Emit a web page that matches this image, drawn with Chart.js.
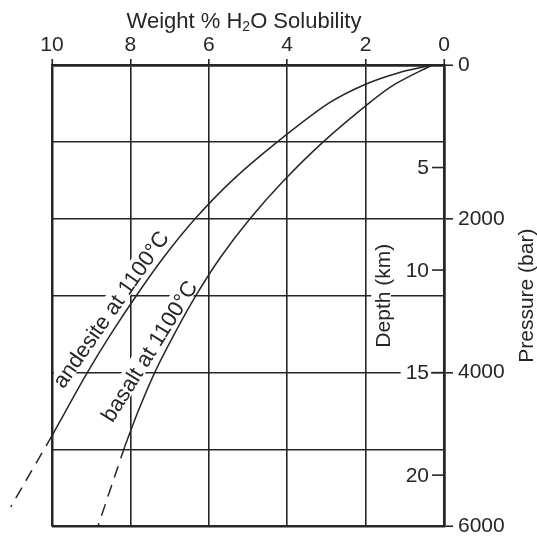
<!DOCTYPE html>
<html>
<head>
<meta charset="utf-8">
<script src="https://cdn.jsdelivr.net/npm/chart.js@4.4.1/dist/chart.umd.min.js"></script>
<style>
  html, body { margin: 0; padding: 0; background: #fff; }
  canvas { display: block; }
</style>
</head>
<body>
<canvas id="chart" width="537" height="544"></canvas>
<script>
// andesite at 1100°C : weight % H2O against pressure (bar)
const andesiteW = [0.3, 1.15, 2.0, 2.95, 4.25, 5.4, 6.35, 7.15, 7.85, 8.5, 9.1, 9.65, 10.0];
const andesiteP = [0, 100, 250, 500, 1000, 1500, 2000, 2500, 3000, 3500, 4000, 4500, 4820];
// dashed extrapolation past 10 %
const andesiteDashW = [10.0, 11.05];
const andesiteDashP = [4820, 5745];

// basalt at 1100°C
const basaltW = [0.3, 1.25, 1.92, 3.08, 4.08, 4.95, 5.7, 6.33, 6.88, 7.38, 7.8, 8.15];
const basaltP = [0, 250, 500, 1000, 1500, 2000, 2500, 3000, 3500, 4000, 4500, 4970];
const basaltDashW = [8.15, 8.83];
const basaltDashP = [4970, 6000];

// axes
const weightTicks = [10, 8, 6, 4, 2, 0];
const pressureLabels = [0, 2000, 4000, 6000];
const depthTicks = [5, 10, 15, 20];
const depthMax = 22.5; // km at 6000 bar

const ink = "#262626";
const family = "'Liberation Sans', Arial, Helvetica, sans-serif";

const toPoints = (xs, ys) => xs.map((x, i) => ({ x: x, y: ys[i] }));

function curve(xs, ys, dashed) {
  return {
    data: toPoints(xs, ys),
    showLine: true,
    borderColor: ink,
    borderWidth: 1.5,
    borderDash: dashed ? [12, 8] : [],
    pointRadius: 0,
    tension: 0.3,
    clip: false
  };
}

// rotated text with a white box behind it (cuts the grid like the printed figure)
function boxedText(chart, text, x, y, angle, size) {
  const { ctx, chartArea } = chart;
  ctx.save();
  ctx.beginPath();
  ctx.rect(chartArea.left + 2, chartArea.top + 2, chartArea.right - chartArea.left - 4, chartArea.bottom - chartArea.top - 4);
  ctx.clip();
  ctx.translate(x, y);
  ctx.rotate(-angle * Math.PI / 180);
  ctx.font = `${size}px ${family}`;
  const w = ctx.measureText(text).width;
  const h = size * 0.74;
  ctx.fillStyle = "#fff";
  ctx.fillRect(-w / 2 - 2, -h / 2 - 3, w + 4, h + 4);
  ctx.fillStyle = ink;
  ctx.textAlign = "center";
  ctx.textBaseline = "alphabetic";
  ctx.fillText(text, 0, h / 2);
  ctx.restore();
}

const annotate = {
  id: "annotate",
  beforeDatasetsDraw(chart) {
    const { ctx, chartArea, scales } = chart;
    const depth = scales.depth;
    ctx.save();
    ctx.font = `21px ${family}`;
    ctx.strokeStyle = ink;
    ctx.lineWidth = 1.6;
    ctx.textAlign = "right";
    ctx.textBaseline = "middle";
    depthTicks.forEach(d => {
      const y = depth.getPixelForValue(d);
      const label = String(d);
      const w = ctx.measureText(label).width;
      const xr = chartArea.right - 15;
      ctx.fillStyle = "#fff";
      ctx.fillRect(xr - w - 5, y - 3, w + 7, 6);
      ctx.fillStyle = ink;
      ctx.fillText(label, xr, y + 1);
      ctx.beginPath();
      ctx.moveTo(chartArea.right - 12, y);
      ctx.lineTo(chartArea.right, y);
      ctx.stroke();
    });
    ctx.restore();

    // depth title inside the frame
    boxedText(chart, "Depth (km)", scales.x.getPixelForValue(1.58), depth.getPixelForValue(11.25), 90, 21);

    // curve labels
    boxedText(chart, "andesite at 1100°C", scales.x.getPixelForValue(8.52), scales.y.getPixelForValue(3170), 55, 22);
    boxedText(chart, "basalt at 1100°C", scales.x.getPixelForValue(7.54), scales.y.getPixelForValue(3715), 58, 22);
  },
  afterDraw(chart) {
    const { ctx, chartArea } = chart;
    ctx.save();
    ctx.fillStyle = ink;
    ctx.textBaseline = "alphabetic";

    // top title with subscript 2
    const parts = ["Weight % H", "2", "O Solubility"];
    ctx.font = `22px ${family}`;
    const w0 = ctx.measureText(parts[0]).width;
    const w2 = ctx.measureText(parts[2]).width;
    ctx.font = `14px ${family}`;
    const w1 = ctx.measureText(parts[1]).width;
    let x = (chartArea.left + chartArea.right) / 2 - 4 - (w0 + w1 + w2) / 2;
    const base = 28;
    ctx.textAlign = "left";
    ctx.font = `22px ${family}`;
    ctx.fillText(parts[0], x, base);
    x += w0;
    ctx.font = `14px ${family}`;
    ctx.fillText(parts[1], x, base + 3);
    x += w1;
    ctx.font = `22px ${family}`;
    ctx.fillText(parts[2], x, base);

    // pressure title, reading upwards
    ctx.translate(527, (chartArea.top + chartArea.bottom) / 2);
    ctx.rotate(-Math.PI / 2);
    ctx.textAlign = "center";
    ctx.textBaseline = "middle";
    ctx.font = `21px ${family}`;
    ctx.fillText("Pressure (bar)", 0, 0);
    ctx.restore();
  }
};

const isEdge = (v, a, b) => v === a || v === b;

new Chart(document.getElementById("chart"), {
  type: "scatter",
  data: {
    datasets: [
      curve(andesiteW, andesiteP, false),
      curve(andesiteDashW, andesiteDashP, true),
      curve(basaltW, basaltP, false),
      curve(basaltDashW, basaltDashP, true)
    ]
  },
  options: {
    responsive: false,
    animation: false,
    layout: { padding: { left: 52, bottom: 6, top: 0, right: 0 } },
    plugins: { legend: { display: false }, tooltip: { enabled: false } },
    scales: {
      x: {
        type: "linear",
        position: "top",
        reverse: true,
        min: 0,
        max: 10,
        afterBuildTicks: s => { s.ticks = weightTicks.map(v => ({ value: v })); },
        ticks: { color: ink, font: { family: family, size: 21 }, padding: 1, maxRotation: 0 },
        grid: {
          color: ink,
          lineWidth: c => (c.tick && isEdge(c.tick.value, 0, 10) ? 2.5 : 1.6),
          tickLength: 6,
          tickColor: ink,
          tickWidth: 1.6
        },
        border: { color: ink, width: 2.5 },
        afterFit: s => { s.height = 65; }
      },
      y: {
        type: "linear",
        position: "right",
        reverse: true,
        min: 0,
        max: 6000,
        ticks: {
          stepSize: 1000,
          autoSkip: false,
          color: ink,
          font: { family: family, size: 21 },
          padding: 5,
          callback: v => (pressureLabels.includes(v) ? String(v) : "")
        },
        grid: {
          color: ink,
          lineWidth: c => (c.tick && isEdge(c.tick.value, 0, 6000) ? 2.5 : 1.6),
          tickLength: 9,
          tickWidth: 1.6,
          tickColor: c => (c.tick && pressureLabels.includes(c.tick.value) ? ink : "rgba(0,0,0,0)")
        },
        border: { color: ink, width: 2.5 },
        afterFit: s => { s.width = 93; }
      },
      depth: {
        type: "linear",
        position: "right",
        reverse: true,
        min: 0,
        max: depthMax,
        display: false
      }
    }
  },
  plugins: [annotate]
});
</script>
</body>
</html>
